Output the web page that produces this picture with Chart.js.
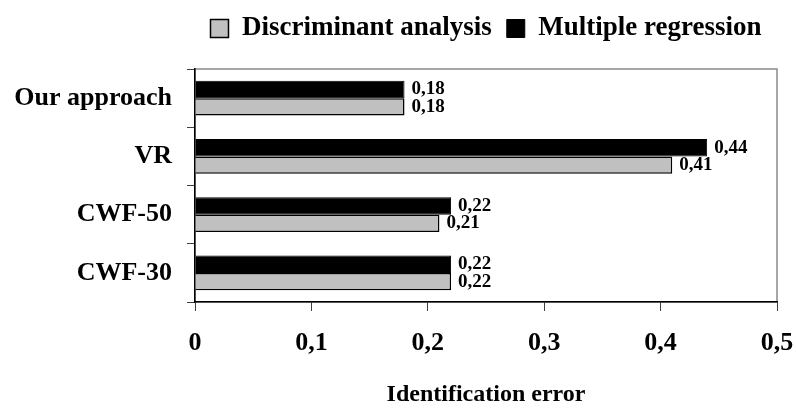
<!DOCTYPE html>
<html>
<head>
<meta charset="utf-8">
<script src="https://cdn.jsdelivr.net/npm/chart.js@4.4.0/dist/chart.umd.min.js"></script>
<style>
  html, body { margin: 0; padding: 0; background: #fff; }
  #wrap { width: 796px; height: 409px; }
</style>
</head>
<body>
<div id="wrap"><canvas id="myChart" width="796" height="409"></canvas></div>
<script>
const categories = ['Our approach', 'VR', 'CWF-50', 'CWF-30'];
const discriminantValues = [0.18, 0.41, 0.21, 0.22];
const regressionValues = [0.18, 0.44, 0.22, 0.22];
const seriesNames = ['Discriminant analysis', 'Multiple regression'];
const xTickValues = [0, 0.1, 0.2, 0.3, 0.4, 0.5];
const axisTitle = 'Identification error';

const serif = "'Liberation Serif', 'Times New Roman', serif";

// decimal comma, as in the original
const toComma = (v, digits) => (digits ? v.toFixed(digits) : String(Math.round(v * 10) / 10)).replace('.', ',');

// draws the value next to each bar
const valueLabels = {
  id: 'valueLabels',
  afterDatasetsDraw(chart) {
    const ctx = chart.ctx;
    ctx.save();
    ctx.font = 'bold 19px ' + serif;
    ctx.fillStyle = '#000';
    ctx.textBaseline = 'middle';
    ctx.textAlign = 'left';
    chart.data.datasets.forEach((ds, i) => {
      chart.getDatasetMeta(i).data.forEach((bar, j) => {
        ctx.fillText(toComma(ds.data[j], 2), bar.x + 7, bar.y);
      });
    });
    ctx.restore();
  }
};

// grey frame round the plot, legend centred over the plot area
const plotFrame = {
  id: 'plotFrame',
  beforeLayout(chart) {
    const legend = chart.legend;
    if (legend && !legend._fitWrapped) {
      const fit = legend.fit;
      legend.fit = function () {
        fit.call(this);
        this.height = 69;
      };
      legend._fitWrapped = true;
    }
  },
  afterLayout(chart) {
    if (chart.legend) {
      chart.legend.left = chart.chartArea.left - 60;
      chart.legend.right = chart.chartArea.right + 60;
    }
  },
  beforeDraw(chart) {
    const { ctx, chartArea: a } = chart;
    ctx.save();
    ctx.strokeStyle = '#8a8a8a';
    ctx.lineWidth = 1.5;
    ctx.strokeRect(a.left, a.top, a.right - a.left, a.bottom - a.top);
    ctx.restore();
  }
};

const ctx = document.getElementById('myChart').getContext('2d');

new Chart(ctx, {
  type: 'bar',
  data: {
    labels: categories,
    datasets: [
      {
        label: seriesNames[1],
        data: regressionValues,
        backgroundColor: '#000000',
        borderColor: '#000000',
        borderWidth: 1
      },
      {
        label: seriesNames[0],
        data: discriminantValues,
        backgroundColor: '#c0c0c0',
        borderColor: '#000000',
        borderWidth: 1.5
      }
    ]
  },
  options: {
    indexAxis: 'y',
    responsive: false,
    animation: false,
    layout: { padding: { left: 0, right: 19, top: 0, bottom: 0 } },
    datasets: {
      bar: { categoryPercentage: 0.6, barPercentage: 1.0 }
    },
    scales: {
      y: {
        type: 'category',
        grid: {
          drawOnChartArea: false,
          drawTicks: true,
          tickLength: 8,
          offset: true,
          color: '#404040'
        },
        border: { color: '#000', width: 1.5 },
        ticks: {
          font: { family: serif, size: 26, weight: 'bold' },
          color: '#000',
          padding: 15
        },
        afterFit(scale) { scale.width = 195; }
      },
      x: {
        min: 0,
        max: 0.5,
        grid: {
          drawOnChartArea: false,
          drawTicks: true,
          tickLength: 9,
          color: '#404040'
        },
        border: { color: '#000', width: 1.5 },
        afterBuildTicks(scale) {
          scale.ticks = xTickValues.map(v => ({ value: v }));
        },
        ticks: {
          font: { family: serif, size: 26, weight: 'bold' },
          color: '#000',
          padding: 17,
          callback: v => toComma(v)
        },
        title: {
          display: true,
          text: axisTitle,
          font: { family: serif, size: 24, weight: 'bold' },
          color: '#000',
          padding: { top: 4, bottom: 0 }
        },
        afterFit(scale) {
          scale.height = 107;
          scale.paddingLeft = 0;
          scale.paddingRight = 0;
        }
      }
    },
    plugins: {
      legend: {
        display: true,
        position: 'top',
        reverse: true,
        labels: {
          boxWidth: 18,
          boxHeight: 18,
          padding: 15,
          color: '#000',
          font: { family: serif, size: 27, weight: 'bold' }
        }
      },
      tooltip: { enabled: false }
    }
  },
  plugins: [valueLabels, plotFrame]
});
</script>
</body>
</html>
